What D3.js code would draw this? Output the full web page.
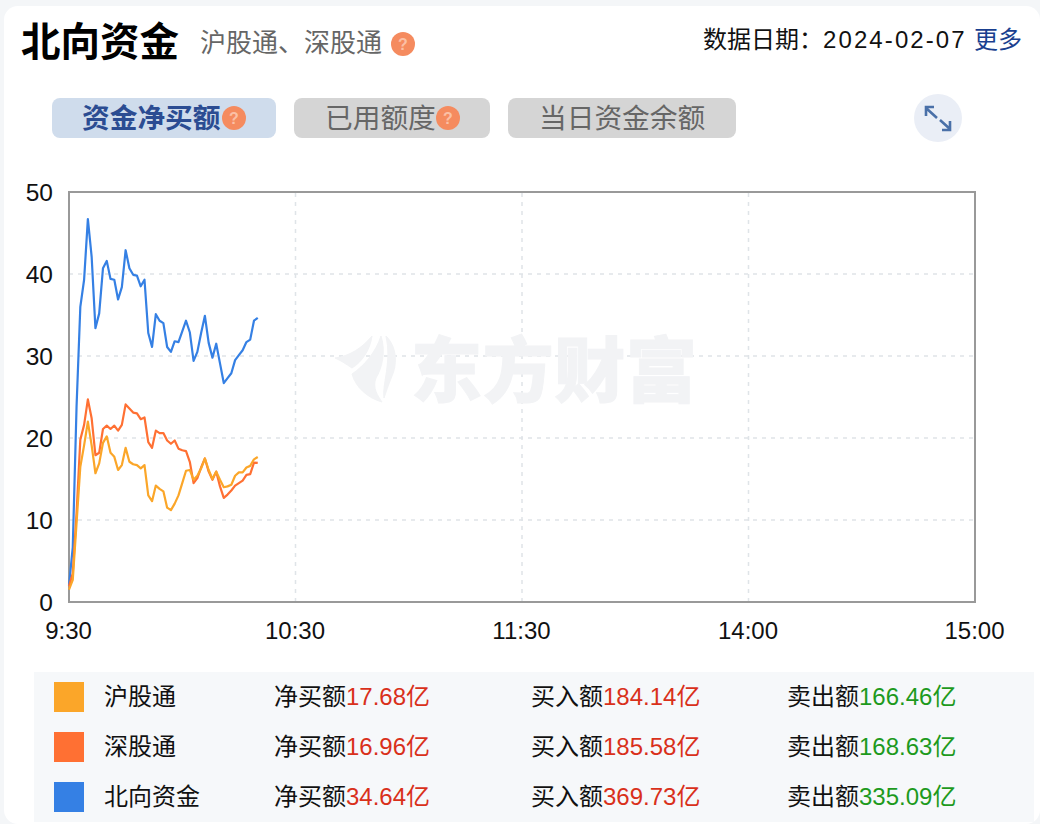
<!DOCTYPE html>
<html>
<head>
<meta charset="utf-8">
<script src="https://cdn.jsdelivr.net/npm/d3@7"></script>
<style>
  html, body { margin: 0; padding: 0; background: #f4f6f8; }
  svg { display: block; }
  text { font-family: "Liberation Sans", "Noto Sans CJK SC", sans-serif; }
</style>
</head>
<body>
<div id="chart"></div>
<script>
// minutes after 9:30, one point per minute
const minutes = d3.range(0, 51);

const shValues = [1.5, 2.7, 9.6, 16.5, 19.1, 22.0, 19.1, 15.7, 16.9, 19.4, 20.2, 18.2, 17.7, 16.1, 16.7, 18.8, 17.1,
  16.8, 16.7, 16.3, 16.7, 13.0, 12.3, 14.2, 13.8, 13.5, 11.5, 11.2, 12.0, 13.0, 14.5, 16.0, 16.1, 14.9, 15.4, 16.3,
  17.5, 16.1, 15.0, 15.9, 14.9, 14.0, 14.1, 14.3, 15.4, 15.8, 15.8, 16.4, 16.6, 17.4, 17.68];
const szValues = [1.9, 3.5, 10.8, 19.8, 21.6, 24.7, 22.4, 17.9, 18.2, 21.1, 21.5, 21.1, 21.5, 20.9, 21.6, 24.1, 23.6,
  23.1, 23.0, 22.3, 22.5, 19.5, 18.8, 20.9, 20.6, 20.6, 19.7, 19.3, 19.7, 18.7, 18.5, 18.4, 17.1, 14.5, 15.1, 16.4,
  17.5, 15.9, 14.9, 15.9, 14.1, 12.7, 13.1, 13.6, 14.2, 14.5, 14.8, 15.5, 15.6, 17.0, 16.96];
const northValues = [2.0, 6.7, 23.8, 36.0, 39.3, 46.7, 42.1, 33.4, 35.2, 40.7, 41.6, 39.4, 39.3, 36.9, 38.4, 42.9, 40.7,
  39.9, 39.8, 38.5, 39.3, 32.8, 31.1, 35.1, 34.3, 34.0, 31.1, 30.5, 31.8, 31.7, 33.0, 34.3, 32.9, 29.4, 30.5, 32.8,
  34.9, 31.6, 29.8, 31.5, 29.1, 26.7, 27.3, 27.9, 29.5, 30.1, 30.7, 31.7, 32.0, 34.3, 34.64];

const seriesNames = ['沪股通', '深股通', '北向资金'];
const seriesColors = ['#fba629', '#ff7033', '#3580e4'];
const netBuy = ['17.68亿', '16.96亿', '34.64亿'];
const buyIn = ['184.14亿', '185.58亿', '369.73亿'];
const sellOut = ['166.46亿', '168.63亿', '335.09亿'];

const xTicks = [0, 60, 120, 180, 240];
const xTickLabels = ['9:30', '10:30', '11:30', '14:00', '15:00'];
const yTicks = [0, 10, 20, 30, 40, 50];

const width = 1040, height = 824;
const margin = { top: 192, right: 65, bottom: 222, left: 69 };

const svg = d3.select('#chart').append('svg').attr('width', width).attr('height', height);

// white card
svg.append('rect').attr('x', 4).attr('y', 6).attr('width', 1036).attr('height', 818).attr('rx', 14).attr('fill', '#fff');

function questionIcon(cx, cy) {
  svg.append('circle').attr('cx', cx).attr('cy', cy).attr('r', 12).attr('fill', '#f58b5f');
  svg.append('text').attr('x', cx).attr('y', cy + 6).attr('text-anchor', 'middle')
    .attr('font-size', 16).attr('font-weight', 'bold').attr('fill', '#fbc0a6').text('?');
}

// header
svg.append('text').attr('x', 21).attr('y', 56).attr('font-size', 39.5).attr('font-weight', 'bold').attr('fill', '#000').text('北向资金');
svg.append('text').attr('x', 200).attr('y', 52).attr('font-size', 26).attr('fill', '#666').text('沪股通、深股通');
questionIcon(403, 44);
svg.append('text').attr('x', 703).attr('y', 48).attr('font-size', 24).attr('fill', '#111').text('数据日期：');
svg.append('text').attr('x', 823).attr('y', 48).attr('font-size', 24).attr('letter-spacing', 2.1).attr('fill', '#111').text('2024-02-07');
svg.append('text').attr('x', 974).attr('y', 48).attr('font-size', 24).attr('fill', '#1a3f8f').text('更多');

// tabs
const tabs = [
  { label: '资金净买额', x: 52, w: 224, tx: 82, fill: '#cfdcec', color: '#2b4c92', weight: 'bold', help: 234 },
  { label: '已用额度', x: 294, w: 196, tx: 325, fill: '#d5d5d5', color: '#666', weight: 'normal', help: 448 },
  { label: '当日资金余额', x: 508, w: 228, tx: 539, fill: '#d5d5d5', color: '#666', weight: 'normal', help: null },
];
tabs.forEach((t) => {
  svg.append('rect').attr('x', t.x).attr('y', 98).attr('width', t.w).attr('height', 40).attr('rx', 8).attr('fill', t.fill);
  svg.append('text').attr('x', t.tx).attr('y', 128).attr('font-size', 27.7).attr('font-weight', t.weight).attr('fill', t.color).text(t.label);
  if (t.help) questionIcon(t.help, 118);
});

// expand button
svg.append('circle').attr('cx', 938).attr('cy', 118).attr('r', 24).attr('fill', '#eaeef6');
svg.append('path')
  .attr('d', 'M926 108L937 118M926 116L926 107L934 107M940 120L950 129M950 121L950 130L942 130')
  .attr('fill', 'none').attr('stroke', '#4a70a8').attr('stroke-width', 2.6);

const x = d3.scaleLinear().domain([0, 240]).range([margin.left, width - margin.right]);
const y = d3.scaleLinear().domain([0, 50]).range([height - margin.bottom, margin.top]);

// grid
const gridColor = '#dfe4e8';
svg.append('g').selectAll('line').data(yTicks.slice(1, -1)).join('line')
  .attr('x1', x(0)).attr('x2', x(240)).attr('y1', (d) => y(d)).attr('y2', (d) => y(d))
  .attr('stroke', gridColor).attr('stroke-width', 1.5).attr('stroke-dasharray', '4 5');
svg.append('g').selectAll('line').data(xTicks.slice(1, -1)).join('line')
  .attr('x1', (d) => x(d)).attr('x2', (d) => x(d)).attr('y1', y(0)).attr('y2', y(50))
  .attr('stroke', gridColor).attr('stroke-width', 1.5).attr('stroke-dasharray', '4 5');

// watermark
const mark = svg.append('g').attr('fill', '#f2f3f5').attr('stroke', '#f2f3f5');
mark.append('path').attr('d', 'M335 358C350 356 362 348 372 336C370 350 362 362 352 368C346 364 340 360 335 358Z');
mark.append('path').attr('d', 'M352 374C364 366 376 352 381 336C386 352 382 368 376 378C372 388 378 396 382 402C368 398 356 388 352 374Z');
mark.append('path').attr('d', 'M386 336C396 346 398 362 392 376C388 386 386 392 384 398C382 384 392 362 386 336Z');
mark.append('text').attr('x', 411).attr('y', 396).attr('font-size', 71).attr('font-weight', 900)
  .attr('font-family', '"Noto Sans CJK SC"').attr('textLength', 286).attr('stroke-width', 1).text('东方财富');

// axes
svg.append('g').attr('transform', `translate(${margin.left},1)`)
  .call(d3.axisLeft(y).tickValues(yTicks).tickSize(0).tickPadding(16))
  .call((g) => g.select('.domain').remove())
  .selectAll('text').attr('font-size', 24.5).attr('fill', '#111').attr('font-family', '"Liberation Sans"');

svg.append('g').attr('transform', `translate(-1,${height - margin.bottom})`)
  .call(d3.axisBottom(x).tickValues(xTicks).tickSize(0).tickPadding(20).tickFormat((d, i) => xTickLabels[i]))
  .call((g) => g.select('.domain').remove())
  .selectAll('text').attr('font-size', 24).attr('fill', '#111').attr('font-family', '"Liberation Sans"');

svg.append('rect').attr('x', x(0)).attr('y', y(50)).attr('width', x(240) - x(0)).attr('height', y(0) - y(50))
  .attr('fill', 'none').attr('stroke', '#999').attr('stroke-width', 2);

// lines
const line = d3.line().x((d, i) => x(minutes[i])).y((d) => y(d));
[northValues, szValues, shValues].forEach((vals, i) => {
  svg.append('path').datum(vals).attr('d', line).attr('fill', 'none')
    .attr('stroke', ['#3580e4', '#ff7033', '#fba629'][i]).attr('stroke-width', 2.2).attr('stroke-linejoin', 'round');
});

// legend table
svg.append('rect').attr('x', 34).attr('y', 672).attr('width', 1000).attr('height', 150).attr('fill', '#f6f8fa');

const rowY = d3.scalePoint().domain(seriesNames).range([697, 797]);
const green = '#1d9a1d', red = '#d9301a';

seriesNames.forEach((name, i) => {
  const cy = rowY(name), base = cy + 8;
  svg.append('rect').attr('x', 54).attr('y', cy - 15).attr('width', 30).attr('height', 30).attr('fill', seriesColors[i]);
  svg.append('text').attr('x', 104).attr('y', base).attr('font-size', 24).attr('fill', '#111').text(name);
  const cols = [
    { x: 274, label: '净买额', value: netBuy[i], color: red },
    { x: 531, label: '买入额', value: buyIn[i], color: red },
    { x: 787, label: '卖出额', value: sellOut[i], color: green },
  ];
  cols.forEach((c) => {
    const t = svg.append('text').attr('x', c.x).attr('y', base).attr('font-size', 24).attr('fill', '#111');
    t.append('tspan').text(c.label);
    t.append('tspan').attr('fill', c.color).text(c.value);
  });
});
</script>
</body>
</html>
